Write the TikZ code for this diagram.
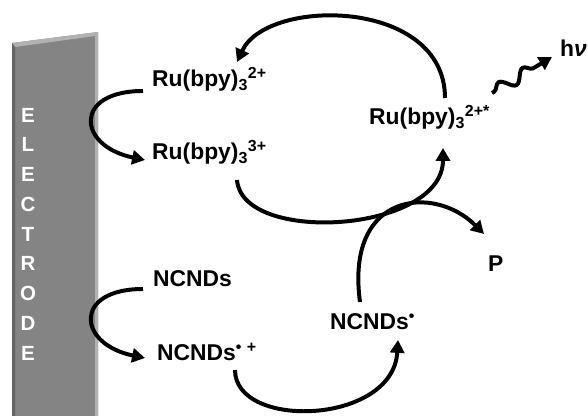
\documentclass[tikz,border=0pt]{standalone}
\usepackage{fontspec}
\setmainfont{Liberation Sans}
\usepackage{tikz}
\usetikzlibrary{arrows.meta, decorations.pathmorphing}
\definecolor{cSlab}{RGB}{132,132,132}
\definecolor{cSlabLight}{RGB}{178,178,178}
\definecolor{cSlabDark}{RGB}{102,102,102}
\tikzset{
	species/.style={anchor=base west, inner sep=0pt, font=\bfseries\fontsize{19.5}{22}\selectfont},
	flowarrow/.style={-{Triangle[length=11pt, width=12pt]}, line width=3.4pt},
	slabletter/.style={text=white, inner sep=0pt, font=\bfseries\fontsize{17.5}{18}\selectfont},
}
\begin{document}
\begin{tikzpicture}[x=0.3mm, y=0.3mm]
	\useasboundingbox (0,0) rectangle (588,416);
	% electrode slab
	\fill[cSlab] (12,0) -- (12,373) -- (98,384) -- (98,0) -- cycle;
	\fill[cSlabLight] (12,373) -- (98,384) -- (95,380) -- (15,369) -- cycle;
	\fill[cSlabLight] (95,0) -- (95,380) -- (98,384) -- (98,0) -- cycle;
	\fill[cSlabDark] (12,0) -- (12,373) -- (15,369) -- (15,0) -- cycle;
	\foreach \ch [count=\i] in {E,L,E,C,T,R,O,D,E}
		\node[slabletter] (el\i) at (28, {301-29.75*(\i-1)}) {\ch};
	% species
	\node[species] (ruII) at (152,329) {Ru(bpy)\textsubscript{3}\textsuperscript{2+}};
	\node[species] (ruIII) at (152,256) {Ru(bpy)\textsubscript{3}\textsuperscript{3+}};
	\node[species] (ruex) at (369,291) {Ru(bpy)\textsubscript{3}\textsuperscript{2+*}};
	\node[species] (hv) at (560,359) {h\textit{ν}};
	\node[species] (prod) at (488,144) {P};
	\node[species] (ncnd) at (153,129) {NCNDs};
	\node[species] (ncndcat) at (157,55) {NCNDs\textsuperscript{\textbullet\,\,+}};
	\node[species] (ncndrad) at (330,86) {NCNDs\textsuperscript{\textbullet}};
	% electrode reactions
	\draw[flowarrow] ([shift={(-9,-4)}]ruII.base west) .. controls +(-70,0) and +(-68,14) .. ([shift={(-7,0)}]ruIII.base west);
	\draw[flowarrow] ([shift={(-10,-2)}]ncnd.base west) .. controls +(-70,0) and +(-68,14) .. ([shift={(-12,3)}]ncndcat.base west);
	% solution reactions
	\draw[flowarrow] ([shift={(76,27)}]ruex.base west) .. controls +(0,100) and +(30,65) .. ([shift={(85,25)}]ruII.base west);
	\draw[flowarrow] ([shift={(85,-20)}]ruIII.base west) .. controls +(5,-65) and +(0,-85) .. ([shift={(74,-23)}]ruex.base west);
	\draw[flowarrow] ([shift={(30,28)}]ncndrad.base west) .. controls +(-15,110) and +(-50,50) .. ([shift={(-4,38)}]prod.base west);
	\draw[flowarrow] ([shift={(78,-9)}]ncndcat.base west) .. controls +(0,-60) and +(-5,-85) .. ([shift={(68,-10)}]ncndrad.base west);
	% emission
	\draw[flowarrow, decorate, decoration={snake, segment length=24pt, amplitude=5pt, pre length=2pt, post length=10pt}] ([shift={(123,32)}]ruex.base west) -- ([shift={(-8,0)}]hv.base west);
\end{tikzpicture}
\end{document}
